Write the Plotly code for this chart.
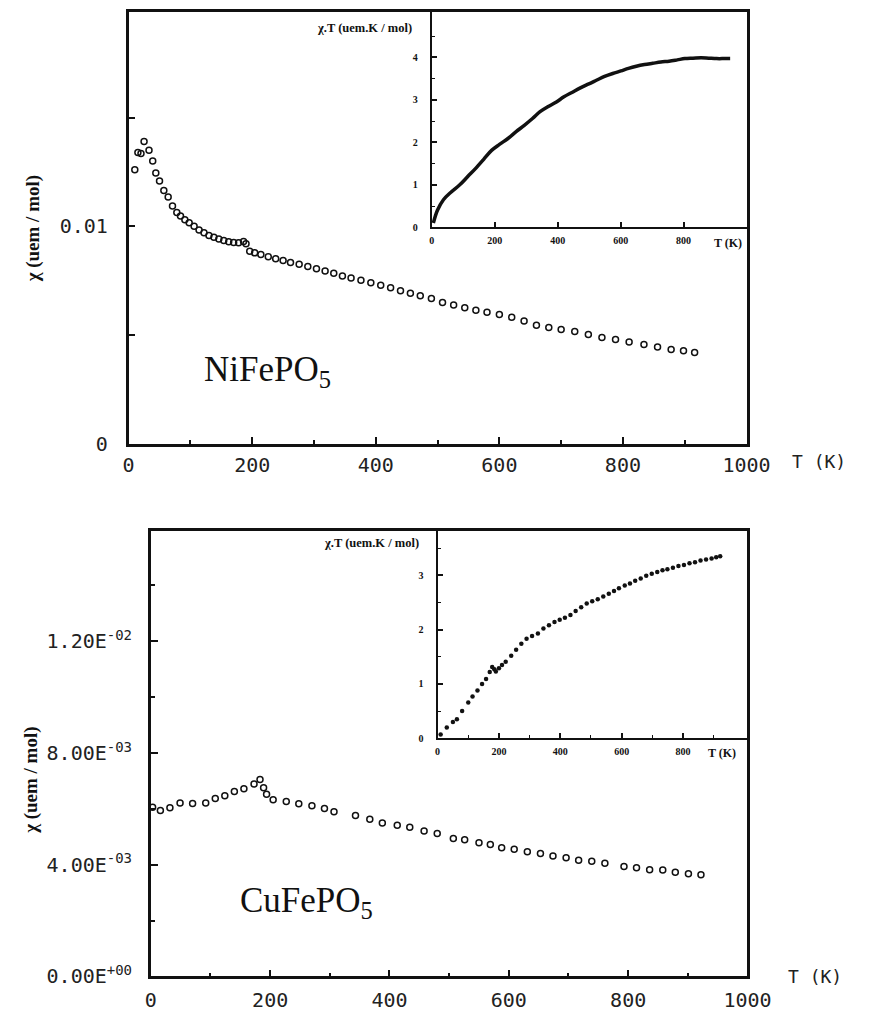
import plotly.graph_objects as go

W, H = 869, 1025

# ---------------- data ----------------
# NiFePO5 main: chi (uem/mol) vs T (K)
ni_T = [10, 15, 20, 25, 33, 39, 44, 50, 57, 64, 71, 78, 84, 91, 98, 106, 114, 122, 130, 138,
        146, 154, 162, 170, 178, 186, 190, 196, 204, 214, 226, 238, 250, 262, 276, 290, 304,
        318, 332, 346, 360, 376, 392, 408, 424, 440, 456, 472, 490, 508, 526, 544, 562, 580,
        600, 620, 640, 660, 680, 700, 722, 744, 766, 788, 810, 834, 856, 878, 898, 916]
ni_chi = [0.01260, 0.01340, 0.01335, 0.01390, 0.01350, 0.01300, 0.01245, 0.01208, 0.01165,
          0.01135, 0.01094, 0.01064, 0.01048, 0.01030, 0.01016, 0.01000, 0.00983, 0.00970,
          0.00958, 0.00950, 0.00942, 0.00935, 0.00929, 0.00926, 0.00925, 0.00930, 0.00920,
          0.00885, 0.00878, 0.00870, 0.00860, 0.00851, 0.00843, 0.00834, 0.00825, 0.00815,
          0.00805, 0.00794, 0.00784, 0.00772, 0.00762, 0.00752, 0.00741, 0.00729, 0.00717,
          0.00704, 0.00692, 0.00681, 0.00668, 0.00650, 0.00638, 0.00626, 0.00614, 0.00605,
          0.00594, 0.00582, 0.00565, 0.00545, 0.00535, 0.00526, 0.00516, 0.00502, 0.00489,
          0.00479, 0.00468, 0.00456, 0.00445, 0.00434, 0.00428, 0.00420]

# NiFePO5 inset: chi.T vs T
ni_in_T = [5, 18, 37, 60, 89, 115, 141, 165, 190, 215, 242, 268, 294, 320, 344, 370, 396, 420,
           447, 472, 497, 523, 549, 575, 601, 625, 650, 676, 702, 728, 754, 780, 804, 830, 856,
           880, 905, 930, 948]
ni_in_chiT = [0.10, 0.40, 0.65, 0.82, 1.00, 1.20, 1.40, 1.60, 1.81, 1.95, 2.09, 2.25, 2.40,
              2.56, 2.72, 2.84, 2.95, 3.07, 3.18, 3.28, 3.37, 3.46, 3.55, 3.62, 3.68, 3.74,
              3.79, 3.83, 3.86, 3.89, 3.91, 3.94, 3.97, 3.98, 3.99, 3.98, 3.97, 3.97, 3.97]

# CuFePO5 main
cu_T = [3, 16, 32, 49, 70, 92, 108, 124, 140, 156, 173, 183, 189, 194, 205, 227, 248, 270,
        291, 307, 343, 367, 388, 413, 434, 458, 480, 507, 526, 550, 569, 588, 609, 631, 653,
        674, 696, 717, 739, 761, 793, 814, 836, 858, 879, 901, 922]
cu_chi = [0.00606, 0.00594, 0.00604, 0.00621, 0.00619, 0.00621, 0.00637, 0.00647, 0.00662,
          0.00672, 0.00689, 0.00705, 0.00676, 0.00652, 0.00633, 0.00626, 0.00618, 0.00611,
          0.00601, 0.00590, 0.00576, 0.00563, 0.00549, 0.00541, 0.00534, 0.00521, 0.00512,
          0.00494, 0.00489, 0.00479, 0.00472, 0.00461, 0.00455, 0.00446, 0.00440, 0.00431,
          0.00425, 0.00416, 0.00412, 0.00405, 0.00394, 0.00389, 0.00382, 0.00381, 0.00373,
          0.00368, 0.00364]

# CuFePO5 inset
cu_in_T = [10, 30, 50, 63, 80, 100, 114, 130, 145, 158, 170, 178, 185, 190, 200, 210, 222,
           240, 256, 273, 290, 308, 327, 345, 363, 381, 398, 415, 433, 450, 468, 486, 504,
           522, 540, 558, 575, 591, 610, 627, 644, 662, 680, 698, 716, 733, 749, 767, 785,
           803, 821, 839, 857, 875, 893, 908, 921]
cu_in_chiT = [0.07, 0.20, 0.30, 0.35, 0.50, 0.66, 0.77, 0.88, 1.00, 1.09, 1.22, 1.31, 1.27,
              1.23, 1.29, 1.35, 1.41, 1.52, 1.63, 1.74, 1.83, 1.88, 1.93, 2.02, 2.08, 2.14,
              2.18, 2.22, 2.27, 2.34, 2.41, 2.48, 2.52, 2.56, 2.61, 2.66, 2.71, 2.76, 2.81,
              2.85, 2.90, 2.94, 2.99, 3.03, 3.06, 3.09, 3.11, 3.14, 3.17, 3.19, 3.22, 3.24,
              3.27, 3.29, 3.31, 3.33, 3.35]

x_ticks = [0, 200, 400, 600, 800, 1000]
x_ticktext = ["0", "200", "400", "600", "800", "1000"]
x_minor = [100, 300, 500, 700, 900]
ni_y_ticks = [0, 0.01]
ni_y_text = ["0", "0.01"]
ni_y_minor = [0.005, 0.015]
cu_y_ticks = [0, 0.004, 0.008, 0.012]
cu_y_text = ["0.00E<sup>+00</sup>", "4.00E<sup>-03</sup>", "8.00E<sup>-03</sup>", "1.20E<sup>-02</sup>"]
cu_y_minor = [0.002, 0.006, 0.010, 0.014]
in_x_ticks = [0, 200, 400, 600, 800]
in_x_text = ["0", "200", "400", "600", "800"]
ni_in_y_ticks = [0, 1, 2, 3, 4]
ni_in_y_text = ["0", "1", "2", "3", "4"]
ni_in_y_minor = [0.5, 1.5, 2.5, 3.5, 4.5]
cu_in_y_ticks = [0, 1, 2, 3]
cu_in_y_text = ["0", "1", "2", "3"]
cu_in_y_minor = [0.5, 1.5, 2.5, 3.5]

# ---------------- helpers ----------------
def px_x(a, b):
    return [a / W, b / W]

def px_y(top, bottom):
    return [1 - bottom / H, 1 - top / H]

MONO = "DejaVu Sans Mono"
SERIF = "Liberation Serif"
INK = "#111111"

open_marker = dict(symbol="circle-open", size=6, color=INK, line=dict(width=1.5, color=INK))

fig = go.Figure()
fig.add_trace(go.Scatter(x=ni_T, y=ni_chi, mode="markers", marker=open_marker,
                         xaxis="x", yaxis="y", showlegend=False))
fig.add_trace(go.Scatter(x=ni_in_T, y=ni_in_chiT, mode="lines",
                         line=dict(color=INK, width=3.5, shape="spline"),
                         xaxis="x2", yaxis="y2", showlegend=False))
fig.add_trace(go.Scatter(x=cu_T, y=cu_chi, mode="markers", marker=open_marker,
                         xaxis="x3", yaxis="y3", showlegend=False))
fig.add_trace(go.Scatter(x=cu_in_T, y=cu_in_chiT, mode="markers",
                         marker=dict(symbol="circle", size=4.5, color=INK),
                         xaxis="x4", yaxis="y4", showlegend=False))

main_axis = dict(showline=True, linewidth=2.5, linecolor=INK, mirror=True, ticks="inside",
                 ticklen=7, tickwidth=2, tickcolor=INK, showgrid=False, zeroline=False,
                 tickfont=dict(family=MONO, size=20, color="#222"))
inset_axis = dict(showline=True, linewidth=2, linecolor=INK, mirror=False, ticks="inside",
                  ticklen=5, tickwidth=1.5, tickcolor=INK, showgrid=False, zeroline=False,
                  tickfont=dict(family=SERIF, size=10, color=INK, weight="bold"))

def minor(vals, ln=4, w=1.5):
    return dict(tickvals=vals, ticks="inside", ticklen=ln, tickwidth=w, tickcolor=INK)

fig.update_layout(
    width=W, height=H, margin=dict(l=0, r=0, t=0, b=0),
    paper_bgcolor="white", plot_bgcolor="rgba(0,0,0,0)",
    xaxis=dict(main_axis, domain=px_x(127, 767), range=[0, 1000], anchor="y",
               tickvals=x_ticks, ticktext=x_ticktext, ticklabelstandoff=2, minor=minor(x_minor)),
    yaxis=dict(main_axis, domain=px_y(12, 449), range=[0, 0.019864], anchor="x",
               tickvals=ni_y_ticks, ticktext=ni_y_text, ticklabelstandoff=14,
               minor=dict(minor(ni_y_minor), ticklen=7, tickwidth=2)),
    xaxis2=dict(inset_axis, domain=px_x(441, 767), range=[0, 1000], anchor="y2",
                tickvals=in_x_ticks, ticktext=in_x_text, ticklabelstandoff=3),
    yaxis2=dict(inset_axis, domain=px_y(12, 230), range=[0, 5.07], anchor="x2",
                tickvals=ni_in_y_ticks, ticktext=ni_in_y_text, ticklabelstandoff=10,
                minor=minor(ni_in_y_minor, 3, 1)),
    xaxis3=dict(main_axis, domain=px_x(150, 768), range=[0, 1000], anchor="y3",
                tickvals=x_ticks, ticktext=x_ticktext, ticklabelstandoff=4, minor=minor(x_minor)),
    yaxis3=dict(main_axis, domain=px_y(537, 988), range=[0, 0.01596], anchor="x3",
                tickvals=cu_y_ticks, ticktext=cu_y_text, ticklabelstandoff=12,
                minor=minor(cu_y_minor)),
    xaxis4=dict(inset_axis, domain=px_x(447, 768), range=[0, 1010], anchor="y4",
                tickvals=in_x_ticks, ticktext=in_x_text, ticklabelstandoff=3,
                minor=minor(x_minor, 3, 1)),
    yaxis4=dict(inset_axis, domain=px_y(537, 747), range=[0, 3.82], anchor="x4",
                tickvals=cu_in_y_ticks, ticktext=cu_in_y_text, ticklabelstandoff=10,
                minor=minor(cu_in_y_minor, 3, 1)),
)

def ann(text, x, y, font, angle=0, xanchor="center"):
    fig.add_annotation(text=text, x=x / W, y=1 - y / H, xref="paper", yref="paper",
                       showarrow=False, textangle=angle, font=font, xanchor=xanchor,
                       yanchor="middle")

ylab_font = dict(family=SERIF, size=19, color=INK, weight="bold")
ann("χ (uem / mol)", 28, 232, ylab_font, angle=-90)
ann("χ (uem / mol)", 26, 790, ylab_font, angle=-90)

inset_title_font = dict(family=SERIF, size=12.5, color=INK, weight="bold")
ann("χ.T (uem.K / mol)", 423, 28, inset_title_font, xanchor="right")
ann("χ.T (uem.K / mol)", 430, 549, inset_title_font, xanchor="right")
ann("T (K)", 748, 246, dict(family=SERIF, size=12, color=INK, weight="bold"))
ann("T (K)", 742, 762, dict(family=SERIF, size=12, color=INK, weight="bold"))

ann("T (K)", 842, 467, dict(family=MONO, size=18, color="#222"))
ann("T (K)", 838, 988, dict(family=MONO, size=18, color="#222"))

comp_font = dict(family=SERIF, size=35, color=INK)
ann("NiFePO<sub>5</sub>", 203, 376, comp_font, xanchor="left")
ann("CuFePO<sub>5</sub>", 240, 913, comp_font, xanchor="left")

fig.write_html("out.html")
